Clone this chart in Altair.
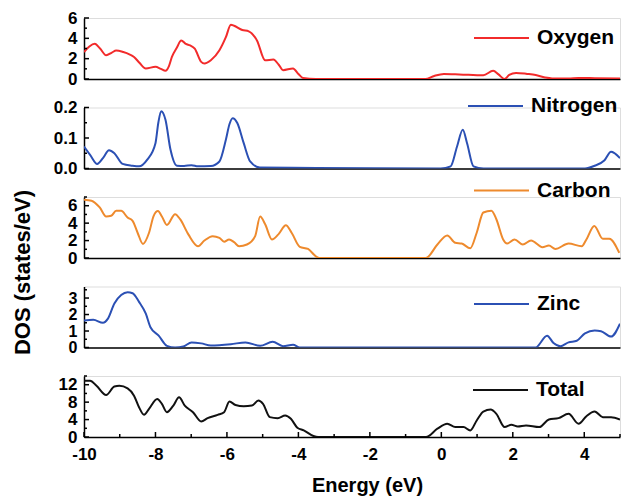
import altair as alt
import pandas as pd

FONT = "Liberation Sans"

# ---------------- data ----------------
ox_e = [-10, -9.85, -9.70, -9.55, -9.38, -9.22, -9.10, -8.9, -8.73, -8.6, -8.45, -8.27, -8.0, -7.85,
        -7.72, -7.62, -7.54, -7.4, -7.28, -7.15, -7.03, -6.9, -6.72, -6.63, -6.45, -6.21, -6.03, -5.89,
        -5.80, -5.57, -5.39, -5.16, -4.93, -4.70, -4.55, -4.43, -4.15, -4.0, -3.87, -3.51, -0.45, -0.2,
        0.07, 0.5, 1.175, 1.45, 1.6, 1.77, 1.9, 2.09, 2.4, 2.64, 2.9, 3.1, 3.56, 3.84, 4.3, 5.0]
ox_v = [2.65, 3.2, 3.46, 3.0, 2.33, 2.6, 2.8, 2.65, 2.43, 2.17, 1.6, 1.04, 1.2, 1.0,
        0.81, 1.3, 2.17, 3.1, 3.79, 3.45, 3.3, 2.98, 1.68, 1.52, 1.84, 2.82, 4.11, 5.34,
        5.24, 4.82, 4.69, 3.79, 1.84, 1.91, 1.4, 0.87, 1.04, 0.5, 0.1, 0.0, 0.0, 0.3,
        0.49, 0.45, 0.36, 0.81, 0.45, 0.0, 0.4, 0.6, 0.5, 0.39, 0.15, 0.06, 0.06, 0.1, 0.08, 0.05]

ni_e = [-10, -9.83, -9.63, -9.47, -9.30, -9.15, -8.92, -8.65, -8.46, -8.23, -8.0, -7.92, -7.84, -7.72,
        -7.58, -7.40, -7.2, -6.99, -6.81, -6.45, -6.21, -6.03, -5.93, -5.84, -5.71, -5.53, -5.35, -5.08,
        -3.5, -0.02, 0.26, 0.44, 0.60, 0.72, 0.90, 1.18, 4.02, 4.29, 4.56, 4.75, 5.0]
ni_v = [0.072, 0.045, 0.015, 0.034, 0.060, 0.05, 0.015, 0.009, 0.007, 0.029, 0.083, 0.15, 0.188, 0.16,
        0.062, 0.009, 0.008, 0.011, 0.007, 0.008, 0.023, 0.094, 0.145, 0.165, 0.149, 0.083, 0.023, 0.003,
        0.002, 0.0, 0.007, 0.072, 0.127, 0.083, 0.007, 0.0, 0.0, 0.009, 0.026, 0.055, 0.034]

ca_e = [-10, -9.79, -9.56, -9.38, -9.24, -9.10, -8.96, -8.78, -8.64, -8.50, -8.35, -8.18, -8.05, -7.93,
        -7.82, -7.68, -7.45, -7.31, -7.08, -6.81, -6.63, -6.40, -6.21, -6.08, -5.94, -5.80, -5.66, -5.44,
        -5.21, -5.07, -4.93, -4.74, -4.56, -4.35, -4.19, -3.96, -3.73, -3.51, -3.41, -0.43, -0.11, 0.165,
        0.39, 0.57, 0.81, 0.99, 1.175, 1.4, 1.54, 1.73, 1.84, 2.05, 2.28, 2.51, 2.83, 3.01, 3.19, 3.56,
        3.93, 4.06, 4.28, 4.52, 4.70, 4.98]
ca_v = [6.69, 6.58, 5.8, 4.76, 4.84, 5.42, 5.42, 4.64, 4.26, 2.9, 1.62, 2.9, 4.84, 5.38,
        4.76, 3.79, 5.03, 4.45, 2.71, 1.35, 2.01, 2.51, 2.32, 1.86, 2.13, 1.82, 1.35, 1.55,
        2.51, 4.76, 3.87, 2.13, 2.71, 3.75, 2.9, 1.28, 1.04, 0.19, 0.0, 0.0, 1.55, 2.59,
        1.74, 1.66, 1.12, 2.9, 5.22, 5.42, 4.45, 2.13, 1.66, 2.13, 1.55, 2.01, 1.24, 1.43, 1.04, 1.66,
        1.35, 2.13, 3.68, 2.2, 2.2, 0.58]

zn_e = [-10, -9.74, -9.47, -9.33, -9.15, -8.96, -8.78, -8.64, -8.46, -8.27, -8.14, -7.91, -7.68, -7.45,
        -7.22, -6.99, -6.72, -6.45, -5.89, -5.48, -5.07, -4.72, -4.43, -4.15, -3.96, 2.64, 2.96, 3.14,
        3.33, 3.56, 3.79, 4.02, 4.29, 4.47, 4.75, 5.0]
zn_v = [1.64, 1.68, 1.5, 1.75, 2.67, 3.18, 3.35, 3.29, 2.77, 2.05, 1.23, 0.72, 0.1, 0.0,
        0.06, 0.31, 0.25, 0.12, 0.2, 0.31, 0.1, 0.35, 0.08, 0.16, 0.0, 0.0, 0.72, 0.27,
        0.08, 0.31, 0.41, 0.86, 1.03, 0.99, 0.66, 1.44]

to_e = [-10, -9.83, -9.65, -9.38, -9.15, -9.01, -8.78, -8.6, -8.46, -8.32, -8.18, -7.95, -7.82, -7.68,
        -7.50, -7.34, -7.18, -6.95, -6.72, -6.54, -6.26, -6.08, -5.93, -5.76, -5.53, -5.30, -5.12, -4.99,
        -4.80, -4.58, -4.37, -4.21, -4.03, -3.85, -3.58, -3.45, -0.43, -0.11, 0.165, 0.39, 0.62, 0.81,
        0.99, 1.175, 1.38, 1.54, 1.77, 1.96, 2.14, 2.37, 2.74, 3.01, 3.28, 3.56, 3.84, 4.06, 4.29, 4.52,
        4.75, 5.0]
to_v = [12.9, 12.9, 11.77, 9.64, 11.6, 11.77, 11.16, 9.49, 6.83, 5.09, 6.45, 8.73, 7.59, 5.69,
        7.21, 9.11, 7.21, 5.69, 3.57, 4.33, 5.09, 5.69, 8.12, 7.36, 7.06, 7.21, 8.35, 7.59,
        4.56, 4.33, 4.94, 4.18, 2.13, 1.52, 0.23, 0.0, 0.0, 1.9, 3.04, 2.28, 2.28, 1.52,
        3.8, 5.85, 6.3, 5.32, 2.28, 2.81, 2.43, 2.66, 2.28, 4.02, 4.33, 5.32, 3.04, 4.78, 5.85, 4.56,
        4.56, 4.02]

x_major = [-10, -8, -6, -4, -2, 0, 2, 4]
x_minor = [-9, -7, -5, -3, -1, 1, 3, 5]

# name, energies, values, colour, y-domain, major ticks, minor ticks, format, label size, legend x, legend y
panels_def = [
    ("Oxygen", ox_e, ox_v, "#f22b2b", [0, 6], [0, 2, 4, 6], [1, 3, 5], "d", 17, 389, -8.5),
    ("Nitrogen", ni_e, ni_v, "#2b50b4", [0, 0.2], [0, 0.1, 0.2], [0.05, 0.15], ".1f", 17, 383, -30),
    ("Carbon", ca_e, ca_v, "#ee8a2d", [0, 7], [0, 2, 4, 6], [1, 3, 5, 7], "d", 17, 389, -35),
    ("Zinc", zn_e, zn_v, "#2b50b4", [0, 3.7], [0, 1, 2, 3], [0.5, 1.5, 2.5, 3.5], "d", 16, 389, -11),
    ("Total", to_e, to_v, "#111111", [0, 14], [0, 4, 8, 12], [2, 6, 10, 14], "d", 17, 388, -14.5),
]

W = 536
H = 61


def make_panel(name, e, v, color, ydom, ymaj, ymin, fmt, lsize, lx, ly, bottom=False, ytitle=False):
    df = pd.DataFrame({"e": e, "v": v, "s": name})
    xscale = alt.Scale(domain=[-10, 5], nice=False, zero=False)
    yscale = alt.Scale(domain=ydom, nice=False, zero=False)

    if bottom:
        xaxis = alt.Axis(orient="bottom", values=x_major, ticks=False, labels=True, domain=True,
                         domainColor="black", domainWidth=1.5, grid=False,
                         labelExpr="'' + datum.value", labelOverlap=False, labelFlush=False,
                         labelFont=FONT, labelFontSize=17, labelFontWeight="bold", labelColor="black",
                         labelPadding=9, title="Energy (eV)", titleFont=FONT, titleFontSize=20,
                         titleFontWeight="bold", titleColor="black", titleX=283, titleY=38,
                         titleBaseline="top", titleAlign="center")
    else:
        xaxis = alt.Axis(orient="bottom", ticks=False, labels=False, domain=True,
                         domainColor="black", domainWidth=1.5, grid=False, title=None)

    yaxis_kw = dict(orient="left", values=ymaj, format=fmt, ticks=False, domain=True,
                    domainColor="black", domainWidth=1.5, grid=False, labelOverlap=False,
                    labelFlush=False, labelFont=FONT, labelFontSize=lsize, labelFontWeight="bold",
                    labelColor="black", labelPadding=7)
    if ytitle:
        yaxis_kw.update(title="DOS (states/eV)", titleFont=FONT, titleFontSize=22,
                        titleFontWeight="bold", titleColor="black", titleX=-62, titleY=75,
                        titleBaseline="middle", titleAlign="center", titleAngle=270)
    else:
        yaxis_kw.update(title=None)
    yaxis = alt.Axis(**yaxis_kw)

    legend = alt.Legend(orient="none", legendX=lx, legendY=ly, title=None, symbolType="stroke",
                        symbolSize=3025, symbolStrokeWidth=2, labelFont=FONT, labelFontSize=21,
                        labelFontWeight="bold", labelColor="black", labelOffset=7, padding=0)

    main = alt.Chart(df).mark_line(strokeWidth=2, interpolate="monotone", clip=True).encode(
        x=alt.X("e:Q", scale=xscale, axis=xaxis),
        y=alt.Y("v:Q", scale=yscale, axis=yaxis),
        color=alt.Color("s:N", scale=alt.Scale(domain=[name], range=[color]), legend=legend),
        order="e:Q",
    )

    def y_ticks(vals, size):
        return alt.Chart(pd.DataFrame({"t": vals})).mark_rule(color="black", strokeWidth=1.5).encode(
            y=alt.Y("t:Q", scale=yscale, axis=yaxis), x=alt.value(0), x2=alt.value(size))

    def x_ticks(vals, size):
        return alt.Chart(pd.DataFrame({"t": vals})).mark_rule(color="black", strokeWidth=1.5).encode(
            x=alt.X("t:Q", scale=xscale, axis=xaxis), y=alt.value(H), y2=alt.value(H - size))

    layers = [main, y_ticks(ymaj, 5), y_ticks(ymin, 3)]
    if bottom:
        layers += [x_ticks(x_major, 5), x_ticks(x_minor, 3)]
    return alt.layer(*layers).properties(width=W, height=H)


charts = []
for i, p in enumerate(panels_def):
    charts.append(make_panel(*p, bottom=(i == len(panels_def) - 1), ytitle=(i == 2)))

chart = alt.vconcat(*charts, spacing=28.5, bounds="flush").resolve_scale(color="independent").properties(
    padding={"left": 2, "top": 0, "right": 0, "bottom": 0}
).configure_view(strokeWidth=0).configure(background="white")

chart.save("out.html", embed_options={"renderer": "svg", "actions": False})
